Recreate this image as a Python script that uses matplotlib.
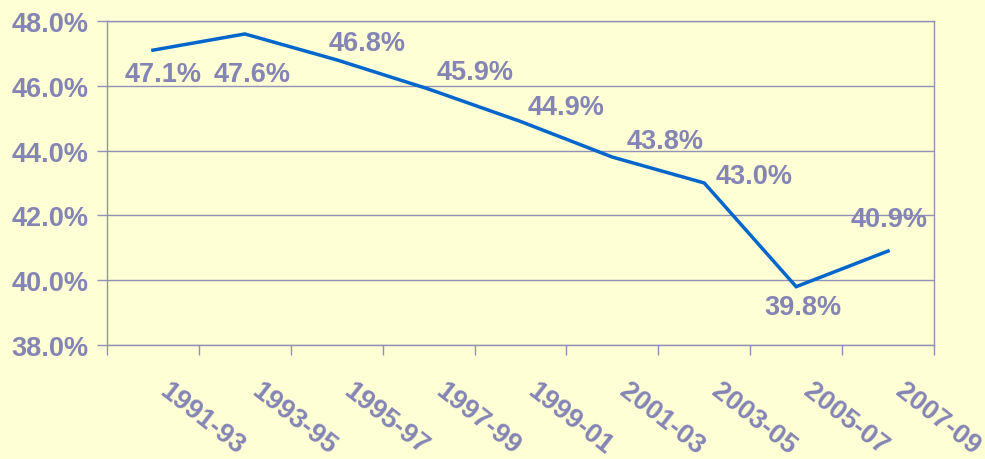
import numpy as np
import matplotlib.pyplot as plt
import matplotlib.transforms as mtransforms

periods = ['1991-93', '1993-95', '1995-97', '1997-99', '1999-01',
           '2001-03', '2003-05', '2005-07', '2007-09']
share = [47.1, 47.6, 46.8, 45.9, 44.9, 43.8, 43.0, 39.8, 40.9]

# label offsets (pixels) relative to each point
label_offsets = [(10, -24), (7, -40), (30, 17), (47, 17), (46, 14),
                 (53, 16), (50, 7), (7, -20), (1, 32)]

bg = '#FFFFD5'
txt = '#8585B5'
grid = '#9090B8'
line_col = '#0066CC'
fs = 19.5

plt.rcParams['font.family'] = ['Liberation Sans', 'DejaVu Sans']

fig = plt.figure(figsize=(9.85, 4.6), dpi=100, facecolor=bg)
ax = fig.add_axes([107 / 985, 1 - 346 / 460, (934 - 107) / 985, (346 - 22) / 460])
ax.set_facecolor(bg)

x = np.arange(len(periods))
ax.plot(x, share, color=line_col, lw=2.5, solid_joinstyle='miter', zorder=3)

for xi, v, (dx, dy) in zip(x, share, label_offsets):
    ax.annotate(f'{v:.1f}%', (xi, v), xytext=(dx, dy), textcoords='offset pixels',
                ha='center', va='center', fontsize=fs, fontweight='bold', color=txt)

ax.set_xlim(-0.5, len(periods) - 0.5)
ax.set_ylim(38, 48)
ax.set_yticks(np.arange(38, 48.1, 2))
ax.set_yticklabels([f'{t:.1f}%' for t in np.arange(38, 48.1, 2)],
                   fontsize=fs, fontweight='bold', color=txt)
ax.yaxis.grid(True, color=grid, lw=1)
ax.set_axisbelow(True)
ax.tick_params(axis='y', length=7, width=1, color=grid, pad=6)

ax.set_xticks(np.arange(len(periods) + 1) - 0.5)
ax.set_xticklabels([])
ax.set_xticks(x, minor=True)
ax.set_xticklabels(periods, minor=True, rotation=-38, ha='left', va='top',
                   rotation_mode='anchor', fontsize=fs, fontweight='bold', color=txt)
ax.tick_params(axis='x', which='major', length=7, width=1, color=grid)
ax.tick_params(axis='x', which='minor', length=0, pad=23)
shift = mtransforms.ScaledTranslation(18 / 100, 0, fig.dpi_scale_trans)
for lab in ax.get_xticklabels(minor=True):
    lab.set_transform(lab.get_transform() + shift)

for s in ax.spines.values():
    s.set_color(grid)
    s.set_linewidth(1)

fig.savefig('out.png', dpi=100, facecolor=bg)
